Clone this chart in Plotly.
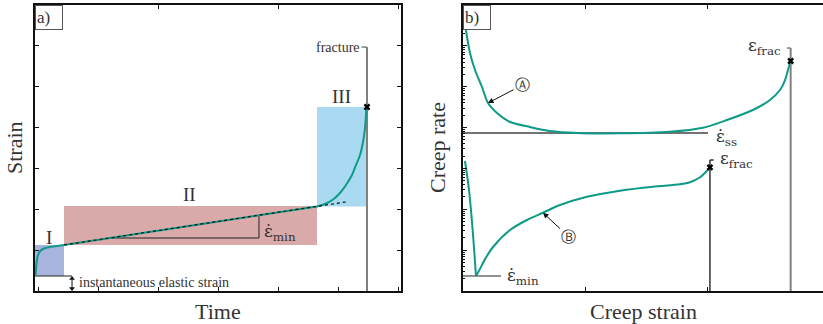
import numpy as np
import plotly.graph_objects as go

W, H = 823, 324
TEAL = "#0E9A86"
INK = "#333333"
FONT = "Liberation Serif"
MATH = "DejaVu Serif"

# ---------------- panel a: strain vs time ----------------
# primary creep (time, strain)
t_primary = [0.008, 0.022, 0.042, 0.075, 0.133, 0.25, 0.367, 0.483]
s_primary = [0.367, 0.636, 0.832, 0.955, 1.028, 1.077, 1.101, 1.126]
# secondary (steady) creep, straight segment
t_secondary = [0.483, 4.70]
s_secondary = [1.126, 2.068]
# tangent of minimum creep rate
t_tangent = [0.483, 5.183]
s_tangent = [1.126, 2.180]
# tertiary creep up to fracture
t_tertiary = [4.70, 4.833, 4.967, 5.083, 5.183, 5.283, 5.35, 5.417, 5.467, 5.50, 5.525]
s_tertiary = [2.068, 2.129, 2.239, 2.398, 2.594, 2.839, 3.084, 3.328, 3.647, 3.989, 4.503]
t_fracture, s_fracture = 5.533, 4.503
s_fracture_label = 5.97

# stage regions: (t0, t1, s0, s1)
stage_names = ["I", "II", "III"]
stage_t0 = [0.0, 0.483, 4.70]
stage_t1 = [0.483, 4.70, 5.517]
stage_s0 = [0.367, 1.126, 2.068]
stage_s1 = [1.126, 2.080, 4.503]
stage_colors = ["rgba(160,172,218,0.9)", "rgba(214,160,160,0.9)", "rgba(164,216,240,0.95)"]
stage_label_t = [0.233, 2.583, 5.10]
stage_label_s = [1.32, 2.35, 4.75]

elastic_strain = 0.367
elastic_marker_t = 0.617
# slope triangle for the minimum creep rate
tri_t = [1.247, 3.733, 3.733]
tri_s = [1.297, 1.297, 1.854]

# ---------------- panel b: creep rate vs creep strain (log10 of rate) ----------------
strain_A = [0.024, 0.057, 0.098, 0.155, 0.204, 0.278, 0.384, 0.547, 0.71, 0.931, 1.282,
            1.69, 1.959, 2.155, 2.367, 2.506, 2.588, 2.629, 2.653, 2.675]
lograte_A = [6.388, 5.825, 5.409, 4.993, 4.601, 4.356, 4.136, 4.014, 3.916, 3.867, 3.860,
             3.899, 3.997, 4.185, 4.430, 4.675, 4.919, 5.164, 5.409, 5.629]
# curve B: drop to the minimum, then rise to fracture
strain_B_drop = [0.016, 0.033, 0.049, 0.065, 0.082, 0.098, 0.106]
lograte_B_drop = [3.182, 2.839, 2.472, 1.982, 1.371, 0.710, 0.367]
strain_B_rise = [0.106, 0.135, 0.18, 0.245, 0.384, 0.522, 0.653, 0.792, 1.012, 1.282, 1.551,
                 1.771, 1.853, 1.935, 1.992, 2.016]
lograte_B_rise = [0.367, 0.52, 0.78, 1.077, 1.493, 1.738, 1.916, 2.105, 2.308, 2.455, 2.553,
                  2.611, 2.660, 2.783, 2.944, 3.027]
lograte_ss = 3.867
lograte_min_B = 0.367
frac_A_top = 5.947
frac_B_top = 3.206

fig = go.Figure()

# stage boxes
for t0, t1, s0, s1, c in zip(stage_t0, stage_t1, stage_s0, stage_s1, stage_colors):
    fig.add_trace(go.Scatter(x=[t0, t1, t1, t0, t0], y=[s0, s0, s1, s1, s0], fill="toself",
                             fillcolor=c, line=dict(width=0), mode="lines",
                             hoverinfo="skip", showlegend=False, xaxis="x", yaxis="y"))

def line(x, y, color, width, dash=None, xa="x", ya="y", shape="linear"):
    fig.add_trace(go.Scatter(x=x, y=y, mode="lines",
                             line=dict(color=color, width=width, dash=dash, shape=shape, smoothing=0.8),
                             hoverinfo="skip", showlegend=False, xaxis=xa, yaxis=ya))

# elastic strain baseline, double arrow and fracture line
line([0, elastic_marker_t], [elastic_strain, elastic_strain], "#222", 1)
fig.add_trace(go.Scatter(x=[elastic_marker_t, elastic_marker_t], y=[0.06, elastic_strain - 0.06],
                         mode="lines+markers", line=dict(color="#111", width=1),
                         marker=dict(symbol=["triangle-down", "triangle-up"], size=5, color="#111"),
                         hoverinfo="skip", showlegend=False, xaxis="x", yaxis="y"))
line([t_fracture, t_fracture], [0, s_fracture_label], "#808080", 2)
line([t_fracture - 0.09, t_fracture], [s_fracture_label, s_fracture_label], "#808080", 1.5)
line(tri_t, tri_s, "#222", 1)
# creep curve
line(t_primary, s_primary, TEAL, 2, shape="spline")
line(t_secondary, s_secondary, TEAL, 2)
line(t_tertiary, s_tertiary, TEAL, 2, shape="spline")
line(t_tangent, s_tangent, "#111", 1.2, dash="dot")
fig.add_trace(go.Scatter(x=[t_fracture], y=[s_fracture], mode="markers",
                         marker=dict(symbol="x", size=6, color="black"),
                         showlegend=False, xaxis="x", yaxis="y"))

# panel b lines
rate = lambda v: np.power(10.0, np.asarray(v, dtype=float))
line([0, 2.0], rate([lograte_ss, lograte_ss]), "#444", 1.5, xa="x2", ya="y2")
line([0, 0.31], rate([lograte_min_B, lograte_min_B]), "#222", 1.2, xa="x2", ya="y2")
line([strain_A[-1], strain_A[-1]], rate([0, frac_A_top]), "#808080", 2, xa="x2", ya="y2")
line([strain_A[-1] - 0.03, strain_A[-1]], rate([frac_A_top, frac_A_top]), "#808080", 1.5, xa="x2", ya="y2")
line([strain_B_rise[-1], strain_B_rise[-1]], rate([0, frac_B_top]), "#111", 1.3, xa="x2", ya="y2")
line([strain_B_rise[-1], strain_B_rise[-1] + 0.03], rate([frac_B_top, frac_B_top]), "#111", 1.3, xa="x2", ya="y2")
line(strain_A, rate(lograte_A), TEAL, 2, xa="x2", ya="y2", shape="spline")
line(strain_B_drop, rate(lograte_B_drop), TEAL, 2, xa="x2", ya="y2", shape="spline")
line(strain_B_rise, rate(lograte_B_rise), TEAL, 2, xa="x2", ya="y2", shape="spline")
fig.add_trace(go.Scatter(x=[strain_A[-1], strain_B_rise[-1]], y=rate([lograte_A[-1], lograte_B_rise[-1]]),
                         mode="markers", marker=dict(symbol="x", size=6, color="black"),
                         showlegend=False, xaxis="x2", yaxis="y2"))

ann = []
def txt(x, y, s, size=14, xref="x", yref="y", xanchor="center", yanchor="middle", angle=0,
        color=INK, family=FONT):
    ann.append(dict(x=x, y=y, xref=xref, yref=yref, text=s, showarrow=False, xanchor=xanchor,
                    yanchor=yanchor, textangle=angle, font=dict(family=family, size=size, color=color)))

for name, lt, ls in zip(stage_names, stage_label_t, stage_label_s):
    txt(lt, ls, name, size=19)
txt(3.783, 1.44, "ε̇<sub>min</sub>", size=17, xanchor="left", family=MATH)
txt(5.45, s_fracture_label, "fracture", size=14, xanchor="right")
txt(0.70, 0.22, "instantaneous elastic strain", size=14, xanchor="left")

txt(2.049, 3.745, "ε̇<sub>ss</sub>", size=17, xref="x2", yref="y2", xanchor="left", family=MATH)
txt(2.612, 5.99, "ε<sub>frac</sub>", size=17, xref="x2", yref="y2", xanchor="right", family=MATH)
txt(2.082, 3.23, "ε<sub>frac</sub>", size=17, xref="x2", yref="y2", xanchor="left", family=MATH)
txt(0.343, 0.36, "ε̇<sub>min</sub>", size=17, xref="x2", yref="y2", xanchor="left", family=MATH)

for label, hx, hy, tx, ty in [("Ⓐ", 0.204, 4.601, 0.486, 5.042), ("Ⓑ", 0.653, 1.916, 0.865, 1.322)]:
    ann.append(dict(x=hx, y=hy, ax=tx, ay=ty, xref="x2", yref="y2", axref="x2", ayref="y2",
                    text=label, showarrow=True, arrowhead=2, arrowsize=1.1, arrowwidth=1,
                    arrowcolor="#111", standoff=0, font=dict(family="DejaVu Sans", size=15, color=INK)))

# axis titles
txt(14 / W, 1 - 148 / H, "Strain", size=22, xref="paper", yref="paper", angle=-90)
txt(218 / W, 1 - 311 / H, "Time", size=22, xref="paper", yref="paper")
txt(437 / W, 1 - 148 / H, "Creep rate", size=22, xref="paper", yref="paper", angle=-90)
txt(643 / W, 1 - 311 / H, "Creep strain", size=22, xref="paper", yref="paper")

# panel tags
for tag, x0 in [("a)", 35), ("b)", 463)]:
    ann.append(dict(x=x0 / W, y=1 - 5 / H, xref="paper", yref="paper", text=tag, showarrow=False,
                    xanchor="left", yanchor="top", width=24, height=21, align="left",
                    bgcolor="white", bordercolor="#555", borderwidth=1, borderpad=1,
                    font=dict(family=FONT, size=17, color=INK)))

ydom = [1 - 291 / H, 1 - 5 / H]
axis_common = dict(showgrid=False, zeroline=False, showticklabels=False, ticks="inside",
                   ticklen=4, tickwidth=1, tickcolor="#111")
fig.update_layout(
    width=W, height=H, margin=dict(l=0, r=0, t=0, b=0),
    paper_bgcolor="white", plot_bgcolor="white", showlegend=False,
    annotations=ann,
    xaxis=dict(domain=[35 / W, 401 / W], range=[0, 6.1], tick0=0.05, dtick=1, anchor="y",
               showline=True, linecolor="#111", linewidth=2, mirror=True, **axis_common),
    xaxis3=dict(overlaying="x", side="top", range=[0, 6.1], tick0=0.05, dtick=2, anchor="y",
                showline=False, **axis_common),
    yaxis=dict(domain=ydom, range=[0, 7], tick0=0, dtick=1, anchor="x",
               showline=True, linecolor="#111", linewidth=2, mirror="ticks", **axis_common),
    xaxis2=dict(domain=[463 / W, 1.0], range=[0, 2.939], tick0=0, dtick=1, anchor="y2",
                showline=True, linecolor="#111", linewidth=2, mirror="ticks", **axis_common),
    yaxis2=dict(domain=ydom, type="log", range=[0, 7], dtick=1, anchor="x2",
                showline=True, linecolor="#111", linewidth=2,
                minor=dict(ticks="inside", ticklen=2, tickcolor="#111", dtick="D1", showgrid=False),
                **axis_common),
)
# keep the top tick axis alive with an invisible trace
fig.add_trace(go.Scatter(x=[0], y=[0], mode="markers", marker=dict(opacity=0),
                         hoverinfo="skip", showlegend=False, xaxis="x3", yaxis="y"))

fig.write_html("out.html")
